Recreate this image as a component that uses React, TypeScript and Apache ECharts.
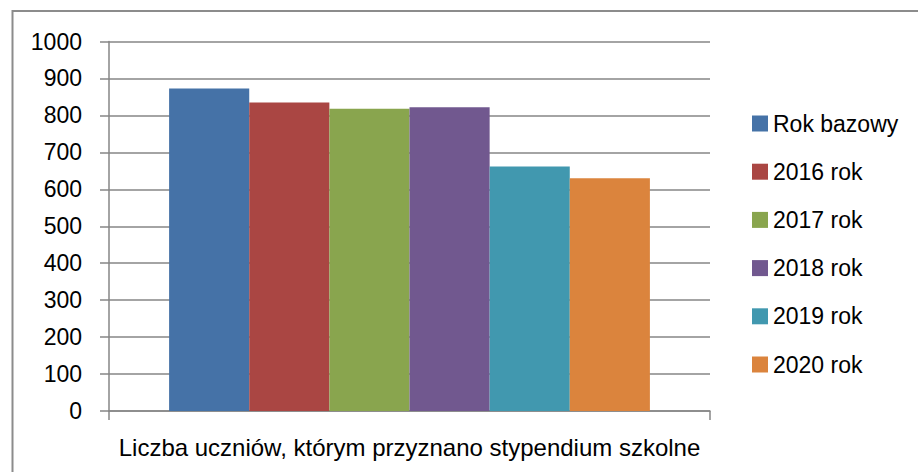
import React, { useEffect, useRef } from "react";
import * as echarts from "echarts";

const categories = ["Liczba uczniów, którym przyznano stypendium szkolne"];
const seriesNames = ["Rok bazowy", "2016 rok", "2017 rok", "2018 rok", "2019 rok", "2020 rok"];
const seriesValues = [873, 835, 818, 822, 662, 630];
const seriesColors = ["#4572A7", "#AA4643", "#89A54E", "#71588F", "#4198AF", "#DB843D"];

const FONT = "'Liberation Sans', Arial, sans-serif";

export default function App() {
  const ref = useRef<HTMLDivElement>(null);
  useEffect(() => {
    if (!ref.current) return;
    const chart = echarts.init(ref.current, null, { renderer: "svg" });
    chart.setOption({
      animation: false,
      backgroundColor: "#ffffff",
      textStyle: { fontFamily: FONT, color: "#000" },
      graphic: [
        {
          type: "rect",
          shape: { x: 12.5, y: 11, width: 1000, height: 1000 },
          style: { fill: "none", stroke: "#8c8c8c", lineWidth: 2 },
          silent: true,
        },
      ],
      grid: { left: 109, right: 208, top: 41.5, bottom: 61, containLabel: false },
      legend: {
        orient: "vertical",
        left: 752,
        top: 112,
        padding: 0,
        itemWidth: 16,
        itemHeight: 16,
        itemGap: 25.2,
        icon: "rect",
        textStyle: { fontSize: 23, fontFamily: FONT, color: "#000" },
        data: seriesNames,
      },
      xAxis: {
        type: "category",
        data: categories,
        axisLine: { lineStyle: { color: "#868686", width: 1.5 } },
        axisTick: { show: true, length: 9, lineStyle: { color: "#868686", width: 1.5 } },
        axisLabel: { fontSize: 24, fontFamily: FONT, color: "#000", margin: 24 },
      },
      yAxis: {
        type: "value",
        min: 0,
        max: 1000,
        interval: 100,
        axisLine: { show: true, lineStyle: { color: "#868686", width: 1.5 } },
        axisTick: { show: true, length: 9, lineStyle: { color: "#868686", width: 1.5 } },
        splitLine: { lineStyle: { color: "#868686", width: 1.5 } },
        axisLabel: {
          fontSize: 23,
          fontFamily: FONT,
          color: "#000",
          margin: 27,
          formatter: (v: number) => String(v),
        },
      },
      series: seriesNames.map((name, i) => ({
        name,
        type: "bar",
        data: [seriesValues[i]],
        barGap: "0%",
        barCategoryGap: "20%",
        itemStyle: { color: seriesColors[i] },
      })),
    });
    return () => chart.dispose();
  }, []);
  return (
    <div
      ref={ref}
      style={{ position: "absolute", left: 0, top: 0, width: 918, height: 472 }}
    />
  );
}
